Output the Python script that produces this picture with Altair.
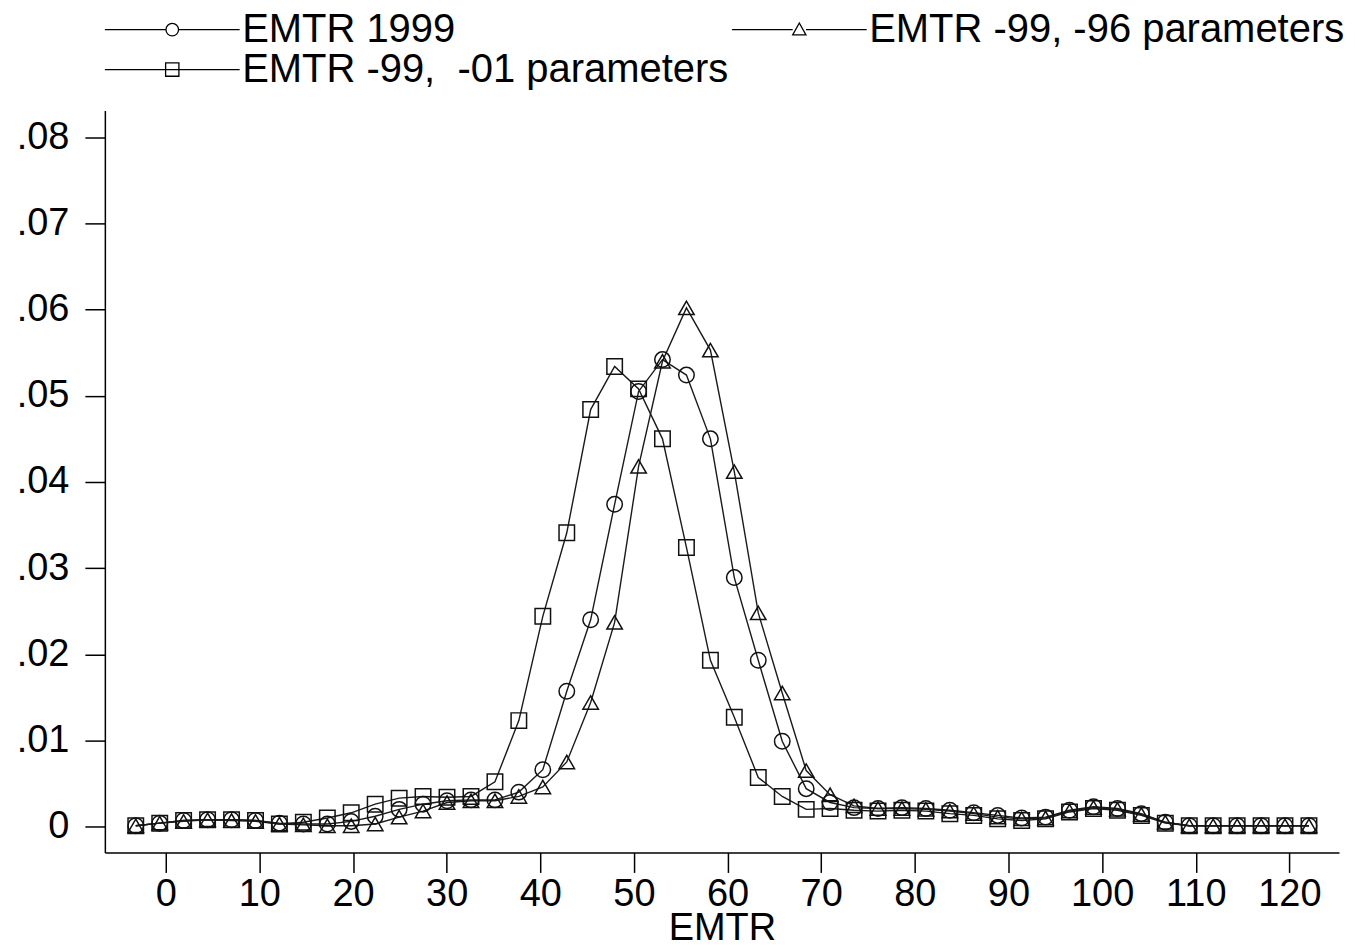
import altair as alt
import pandas as pd

series_names = ["EMTR 1999", "EMTR -99, -96 parameters", "EMTR -99,\u00a0 -01 parameters"]

emtr_x = [-3.2, -0.64, 1.91, 4.47, 7.03, 9.59, 12.14, 14.7, 17.26, 19.81,
          22.37, 24.93, 27.48, 30.04, 32.6, 35.16, 37.71, 40.27, 42.83, 45.38,
          47.94, 50.5, 53.05, 55.61, 58.17, 60.72, 63.28, 65.84, 68.4, 70.95,
          73.51, 76.07, 78.62, 81.18, 83.74, 86.29, 88.85, 91.41, 93.96, 96.52,
          99.08, 101.64, 104.19, 106.75, 109.31, 111.86, 114.42, 116.98, 119.53, 122.09]

emtr_1999 = [0.0001, 0.0004, 0.0007, 0.0008, 0.0008, 0.0007, 0.0004, 0.0003, 0.0003, 0.0006,
             0.0012, 0.0020, 0.0026, 0.0030, 0.0031, 0.0031, 0.0040, 0.0066, 0.0157, 0.0240,
             0.0374, 0.0505, 0.0542, 0.0524, 0.0450, 0.0289, 0.0193, 0.0099, 0.0044, 0.0028,
             0.0022, 0.0021, 0.0022, 0.0021, 0.0019, 0.0016, 0.0013, 0.0010, 0.0011, 0.0019,
             0.0023, 0.0021, 0.0015, 0.0005, 0.0001, 0.0001, 0.0001, 0.0001, 0.0001, 0.0001]

emtr_96 = [0.0001, 0.0004, 0.0006, 0.0008, 0.0007, 0.0006, 0.0003, 0.0002, 0.0001, 0.0001,
           0.0003, 0.0011, 0.0018, 0.0028, 0.0030, 0.0030, 0.0035, 0.0046, 0.0075, 0.0144,
           0.0237, 0.0418, 0.0540, 0.0602, 0.0553, 0.0412, 0.0248, 0.0155, 0.0065, 0.0037,
           0.0024, 0.0021, 0.0021, 0.0020, 0.0018, 0.0015, 0.0011, 0.0009, 0.0010, 0.0018,
           0.0022, 0.0020, 0.0014, 0.0005, 0.0001, 0.0001, 0.0001, 0.0001, 0.0001, 0.0001]

emtr_01 = [0.0001, 0.0004, 0.0007, 0.0008, 0.0008, 0.0007, 0.0003, 0.0005, 0.0010, 0.0016,
           0.0026, 0.0033, 0.0035, 0.0034, 0.0035, 0.0052, 0.0123, 0.0244, 0.0341, 0.0484,
           0.0534, 0.0508, 0.0450, 0.0324, 0.0193, 0.0127, 0.0057, 0.0035, 0.0020, 0.0021,
           0.0019, 0.0018, 0.0019, 0.0018, 0.0015, 0.0013, 0.0009, 0.0007, 0.0009, 0.0017,
           0.0021, 0.0019, 0.0013, 0.0004, 0.0001, 0.0001, 0.0001, 0.0001, 0.0001, 0.0001]

x_ticks = [0, 10, 20, 30, 40, 50, 60, 70, 80, 90, 100, 110, 120]
y_ticks = [0, 0.01, 0.02, 0.03, 0.04, 0.05, 0.06, 0.07, 0.08]

rows = []
for name, ys in zip(series_names, [emtr_1999, emtr_96, emtr_01]):
    for xv, yv in zip(emtr_x, ys):
        rows.append({"series": name, "x": xv, "y": yv})
df = pd.DataFrame(rows)

FONT = "Liberation Sans"
L = 9.64
legend_paths = [
    f"M-{L},0H-0.9M0.9,0H{L}M-0.9,0A0.9,0.9,0,1,0,0.9,0A0.9,0.9,0,1,0,-0.9,0",
    f"M-{L},0H-0.95M0.95,0H{L}M0,-0.95L0.95,0.75H-0.95Z",
    f"M-{L},0H{L}M-0.95,-0.95H0.95V0.95H-0.95Z",
]

xscale = alt.Scale(domain=[-6.5, 125.3], nice=False, zero=False)
yscale = alt.Scale(domain=[-0.003, 0.0831], nice=False, zero=False)

xaxis = alt.Axis(values=x_ticks, title="EMTR", grid=False, tickSize=20, tickWidth=1.5,
                 tickColor="black", domainColor="black", domainWidth=1.5,
                 labelFont=FONT, labelFontSize=38, labelColor="black", labelPadding=3,
                 titleFont=FONT, titleFontSize=38, titleFontWeight="normal",
                 titleColor="black", titlePadding=-4)
yaxis = alt.Axis(values=y_ticks, title=None, grid=False, tickSize=20, tickWidth=1.5,
                 tickColor="black", domainColor="black", domainWidth=1.5,
                 labelFont=FONT, labelFontSize=38, labelColor="black", labelPadding=16,
                 labelExpr="datum.value == 0 ? '0' : replace(format(datum.value, '.2f'), '0.', '.')")

base = alt.Chart(df)

lines = base.mark_line(color="#1a1a1a", strokeWidth=1.4).encode(
    x=alt.X("x:Q", scale=xscale, axis=xaxis),
    y=alt.Y("y:Q", scale=yscale, axis=yaxis),
    detail="series:N",
)

points = base.mark_point(filled=False, color="#111111", strokeWidth=1.5, size=240, opacity=1).encode(
    x=alt.X("x:Q", scale=xscale),
    y=alt.Y("y:Q", scale=yscale),
    shape=alt.Shape("series:N", scale=alt.Scale(domain=series_names,
                                                range=["circle", "triangle-up", "square"]),
                    legend=None),
)

legend_layer = base.mark_point(filled=False, color="black", strokeWidth=1.3).encode(
    x=alt.X("x:Q", scale=xscale),
    y=alt.Y("y:Q", scale=yscale),
    shape=alt.Shape("series:N", scale=alt.Scale(domain=series_names, range=legend_paths),
                    legend=alt.Legend(title=None, orient="none", legendX=0, legendY=-101,
                                      direction="horizontal",
                                      columns=2, columnPadding=0, rowPadding=-1,
                                      labelFont=FONT, labelFontSize=40, labelColor="black",
                                      labelLimit=2000, symbolSize=196, symbolStrokeWidth=1.3,
                                      symbolStrokeColor="black", symbolFillColor="transparent",
                                      symbolOffset=47.5, labelOffset=50, symbolOpacity=1)),
).transform_filter("datum.x < -100")

chart = alt.layer(lines, points, legend_layer).resolve_scale(shape="independent").properties(
    width=1236, height=743,
    autosize=alt.AutoSizeParams(type="none"),
    padding={"left": 97, "top": 102, "right": 8, "bottom": 100},
    background="white",
).configure_view(stroke=None)

chart.save("out.html", embed_options={"renderer": "svg", "actions": False})
